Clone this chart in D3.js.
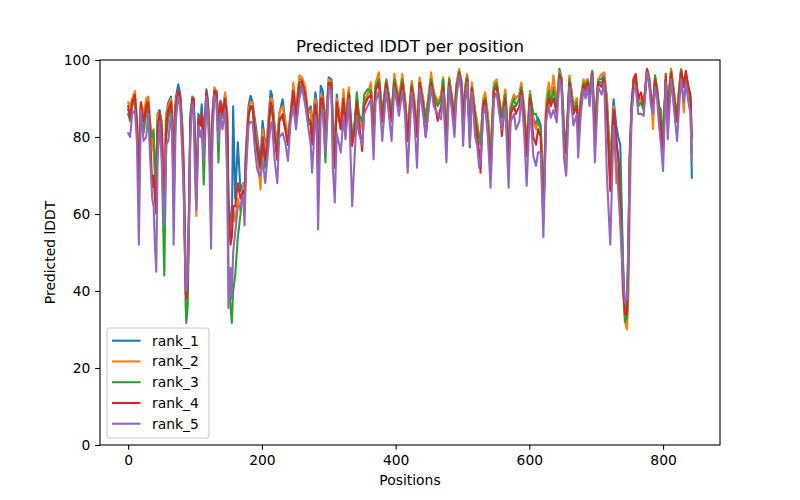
<!DOCTYPE html>
<html>
<head>
<meta charset="utf-8">
<script src="https://cdn.jsdelivr.net/npm/d3@7/dist/d3.min.js"></script>
<style>
  body { margin: 0; background: #fff; }
  svg { font-family: "DejaVu Sans", sans-serif; }
</style>
</head>
<body>
<svg id="chart" width="800" height="500"></svg>
<script>
// ---- data ----
const positions = [
0,3,6,10,13,16,19,23,27,30,
33,36,38,40,42,44,47,50,52,54,
57,60,64,66,68,71,75,78,81,83,
86,87,89,91,93,96,98,100,102,105,
108,110,113,117,119,121,124,126,129,132,
135,138,141,145,148,150,153,155,157,160,
164,168,172,174,176,180,183,186,190,193,
196,198,201,205,208,213,215,219,223,226,
231,235,239,243,247,251,256,260,265,269,
273,275,280,282,284,288,291,295,300,304,
306,309,312,318,322,325,330,335,339,342,
345,350,353,358,363,367,370,375,380,386,
394,398,405,410,414,418,424,428,432,436,
441,445,453,457,463,468,471,476,480,484,
488,491,495,498,501,504,507,511,514,519,
522,525,527,531,534,538,542,547,551,555,
559,564,569,572,577,580,585,588,592,596,
601,606,610,613,617,621,625,629,632,636,
641,645,648,652,655,660,663,666,671,673,
677,681,684,687,690,694,698,703,708,712,
716,721,726,730,733,736,740,743,746,748,
750,753,756,759,763,767,771,776,779,782,
785,788,791,794,797,800,804,807,812,817,
821,824,827,831,834,838,841,843];

const rank_1 = [
87,86,89,90,83,74,88,85,89,90,
83,79,80,74,66,86,87,84,74,68,
86,89,90.5,86,68,90,93.7,91,83,74,
44,42,45,62,86,90.5,90,78,67,86,
84,88.5,80,92.4,90,84,68,86,92.5,92,
84,89.5,87,91,86,64,58,56,88,64,
78.6,66,68,65,76,88,90.7,89,84,80,
76,74,84.2,78,80,92,91,83,78,86,
89.8,84,80,86,93,87,95,95,92,86,
88,82,91.6,89,76,93.3,92,82,95.5,95,
84,78,91,83,91,85,92,80,84,90,
85,82,89,91,92.5,83,93,95,86,95,
86,95,90,95.5,90,82,94,89,82,95,
90,85,95.5,91.5,89,90,95,82,95,90.5,
86,93,97,95,86,93,96,77.3,93,86,
83,80,79,89,90.5,85,75,93,94,89,
86,92,78,88,91,90,91,93.5,88,78,
91.5,85,83,85,83,62,87,93,90,93,
88,97.7,95.5,82,78,95.5,92,88,90,82,
90,94.5,93.5,95,92,97.2,83,95,95,96.4,
90,73,89.8,83,80,78,48,35,36,50,
75,89,95,95.5,90,90,88,97.5,95.5,90,
88,95,92,87,84,78,95,86,97.7,90,
84,92,97.5,93,96,92,89,69.4];

const rank_2 = [
89,88,90,92,85,75,89,86,90,90.5,
84,78,76,70,64,86,86,84,72,66,
86,88,90,86,64,89,92,90,82,72,
45,42,46,62,84,90,89,70,59.5,84,
84,86,78,91.5,89,84,66,86,92.9,91.5,
84,89,86,91.6,86,60,55,54,62,58,
64,60.8,68,62,75,87,89,89,82,78,
70,66.4,82,76,80,90,90,82,78,86.4,
88,84,80,86,94.2,86,96,95.5,93,86,
87,80,90,87,74,91,90,82,95,94,
83,76,90,84,92.4,85,92.9,80,83,90,
85,82,89,91,94.2,84,94,96.8,86,95,
86,96.4,90,96.4,90,82,94.6,90,83,95.5,
90,84,96.8,92,89,91,95.5,82,95.5,91,
86,94,97.7,95,87,93,96.4,84,94.2,87,
84,80,79,90,91.6,86,76,94,95,90,
86,92.4,78,88,91,90,91,94.2,88,78,
92,84,82,84,82,62,89,94.2,90,96,
89,97,95,82,70,96,92,88,90,83,
90,95,94,95,92,97,83,95,96.4,96.8,
90,72,88,68,72,65,44,32,30,38,
60,86,95.5,95,89,90,88,97.8,96,91,
82,95,92,87,84,77,95,90,97.5,91,
85,93,97.7,86.4,96,92,89,79];

const rank_3 = [
86,84,88,90,82,72,88,81,86,88,
82,80,82,72,65,84,85,80,60,44,
80,85,88,84,66,87,91.5,89,78,70,
36,31.7,36,58,84,90,89,77,64,84,
83,85,67.7,91,88,82,64,84,92,91,
73.4,88,85,89,84,45,36,31.7,40,44,
54,60,66,64,73,85,88,87,81,76,
73,72,79,72,78,88,87,81,76,85,
85,82,78,85,91,84,92,94,90,84,
83,79,88,85,72,89,89,73.4,94,93,
82,75,88,82,89,83,91.5,79,84,91.6,
86,84,91,92.4,92,82,93,95,86,94.5,
86,95,89,95,89,80,93.5,88,82,94,
89,84,95,91,88,90,95,80,95,90,
85,93,97,94.5,86,92,95.5,82,93,86,
82,80,78,89,90,84,74,93,94,89,
85,91,76,87,90,88,90,93,86,77,
91,86,86,84,82,60,86,92,89,92,
88,96.5,95,80,76,95,91,87,89,82,
89,94,93,94.5,91,97,82,94.5,94,95.5,
88,70,87,78,75,70,46,32,33,46,
72,88,94,95,88,89,87,97.5,95,90,
88,96,93,88,87,79,95,88,97,90,
86,92,97.5,94,96,93,90,76];

const rank_4 = [
88,85,89,91,84,68,89,84,88,89,
80,67,70,64,60,82,86,82,70,62,
84,87,89,84,62,88,92,90,80,70,
40,38,42,60,84,90,90,78,66,84.6,
83,86,78,91.5,89,82,60,84,92,91.6,
83,89,86,90,85,62,52,54,62,62,
68,64,66,62,74,86,88,88,80,77,
74,72,80,74,78,89,88,80,74,84,
86,82,78,85.5,92,86,94,94.5,91,85,
84,78,88.5,86,70,90,90,80,94,94,
80,72,89,82,90,82,91,77.7,82,89,
84,76.4,88,90,91,80,92,94,84,94,
84,94,88,94,88,79,93,88,80,94,
88,80,94,90,84.2,88,93,78,94,89,
84,92,96.5,94,84,91,95,80,92.5,84,
80,76,70.7,88,89.5,82,70,92,93,88,
80.3,90,74,86,88,86,88,92,86,75,
90,80,78,82,80,58,86,90,88,90,
86,96,94,78,76,94,90,86,88,80,
88,93.5,92,94,90,96.5,80,94,93,95,
86,66,87,80,74,62,40,34,34,48,
74,88,95,96.4,90,91.6,88,97.5,95,90,
88,95,92,86,82,76,96.4,84,96.5,89,
84,91,97,93,97.2,93,91,80];

const rank_5 = [
81,80,86,87,79,52,87,79,80,86,
74,64,62,52,45,74,84,74,64,57,
78,79,86,80,52,84,90.5,88,75,65,
42,40,44,57,80,89,87,72,61,83,
80,82,74,90.5,87,78,51,80,91,89,
79,86,82,87,70,35.6,46,38,50,55,
62,62,65,57,70,83,84,83.8,76,71.6,
70,70,74,68,74,83,84,74,68,80,
81,78.6,73.8,84,88,82,90,93,88,83,
78,70.7,85.5,83,56,85.5,87,76,93,92,
72.5,63,81,76,85.5,79.4,89.8,62,76,85.5,
81,78,86,88,89.8,74.2,89,92,79,92.5,
79,93,85.5,92,86,70.7,91.6,84.6,72,92.4,
86,80,93,88,86,84.6,91.6,73.4,93,87,
80,90,96,92,77.7,89,94,78,91.6,80,
77.7,72,74,86,88,80,66.8,89.8,91.6,86,
82,88,66.8,84,86,82,84,90.7,82,67.3,
88,75,72.5,76,76,54,84,88,85,87,
83.8,95,93,74.2,70,93,88,83,86,74.7,
86,92.5,90,93,88,96,73.4,93,91,94,
70,52,83,72.5,66,57,44,37,38,52,
72,86,92,93,86,86,85.5,96.8,94,88,
86,93,90,83,77.7,71.2,94,79.4,95,86,
79,88,95,89,94,89,86,74];

const seriesNames = ["rank_1", "rank_2", "rank_3", "rank_4", "rank_5"];
const seriesValues = [rank_1, rank_2, rank_3, rank_4, rank_5];
const colors = ["#1f77b4", "#ff7f0e", "#2ca02c", "#d62728", "#9467bd"];
const xTicks = [0, 200, 400, 600, 800];
const yTicks = [0, 20, 40, 60, 80, 100];
const titleText = "Predicted lDDT per position";
const xLabel = "Positions";
const yLabel = "Predicted lDDT";

// ---- layout ----
const L = 100, R = 720, T = 60, B = 445;
const svg = d3.select("#chart");
const fs = 13.89;

const xMin = d3.min(positions), xMax = d3.max(positions);
const pad = (xMax - xMin) * 0.05;
const x = d3.scaleLinear().domain([xMin - pad, xMax + pad]).range([L, R]);
const y = d3.scaleLinear().domain([0, 100]).range([B, T]);

// lines
const line = d3.line()
  .x((d, i) => x(positions[i]))
  .y(d => y(d));

const g = svg.append("g");
seriesValues.forEach((vals, k) => {
  g.append("path")
    .datum(vals)
    .attr("d", line)
    .attr("fill", "none")
    .attr("stroke", colors[k])
    .attr("stroke-width", 2.08)
    .attr("stroke-linejoin", "round")
    .attr("stroke-linecap", "square");
});

// axes
const xAxis = d3.axisBottom(x).tickValues(xTicks).tickSize(4.86).tickSizeOuter(0).tickPadding(4.86);
const yAxis = d3.axisLeft(y).tickValues(yTicks).tickSize(4.86).tickSizeOuter(0).tickPadding(4.86);

const gx = svg.append("g").attr("transform", `translate(0,${B})`).call(xAxis);
const gy = svg.append("g").attr("transform", `translate(${L},0)`).call(yAxis);
[gx, gy].forEach(a => {
  a.select(".domain").remove();
  a.selectAll(".tick line").attr("stroke", "#000").attr("stroke-width", 1.1);
  a.selectAll(".tick text").attr("fill", "#000")
    .style("font-family", "DejaVu Sans, sans-serif").style("font-size", fs + "px");
});
gx.selectAll(".tick text").attr("dy", "0.75em");

// frame (spines)
svg.append("rect")
  .attr("x", L).attr("y", T).attr("width", R - L).attr("height", B - T)
  .attr("fill", "none").attr("stroke", "#000").attr("stroke-width", 1.1);

// title and labels
svg.append("text").attr("x", (L + R) / 2).attr("y", 52)
  .attr("text-anchor", "middle").style("font-size", "16.67px").text(titleText);
svg.append("text").attr("x", (L + R) / 2).attr("y", 485)
  .attr("text-anchor", "middle").style("font-size", fs + "px").text(xLabel);
svg.append("text")
  .attr("transform", `translate(54.5,${(T + B) / 2}) rotate(-90)`)
  .attr("text-anchor", "middle").style("font-size", fs + "px").text(yLabel);

// legend
const lg = svg.append("g");
lg.append("rect")
  .attr("x", 107).attr("y", 328).attr("width", 102).attr("height", 110)
  .attr("rx", 2.8).attr("ry", 2.8)
  .attr("fill", "#fff").attr("fill-opacity", 0.8)
  .attr("stroke", "#cccccc").attr("stroke-width", 1.1);
seriesNames.forEach((name, k) => {
  const yy = 340.7 + k * 20.75;
  lg.append("line")
    .attr("x1", 112).attr("x2", 140.5).attr("y1", yy).attr("y2", yy)
    .attr("stroke", colors[k]).attr("stroke-width", 2.08);
  lg.append("text")
    .attr("x", 152).attr("y", yy).attr("dy", "0.35em")
    .style("font-size", fs + "px").text(name);
});
</script>
</body>
</html>
